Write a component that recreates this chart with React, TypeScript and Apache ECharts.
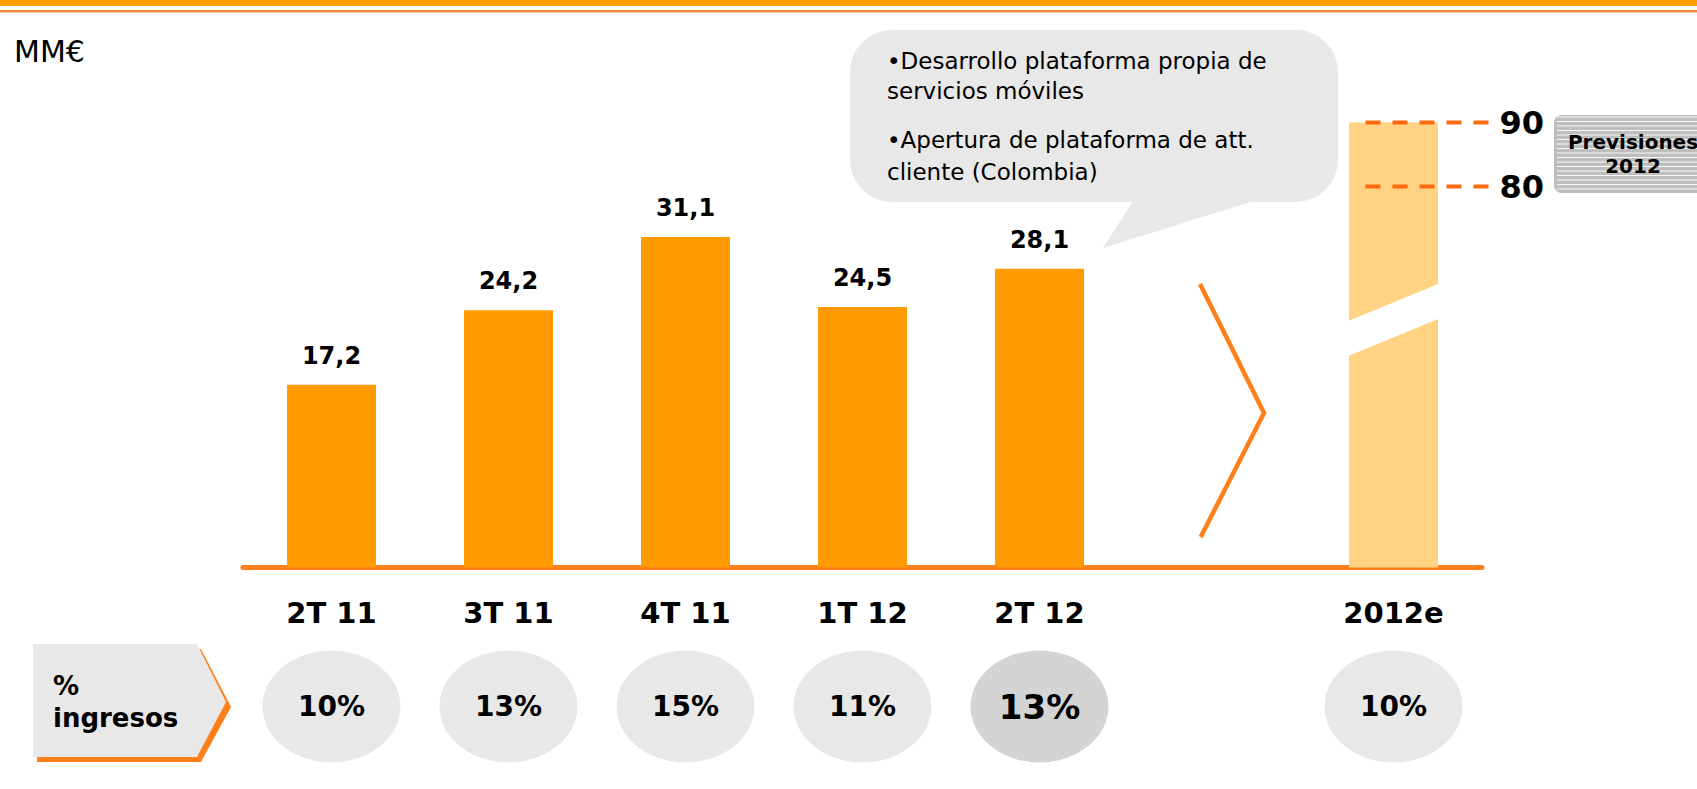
import React, { useEffect, useRef } from "react";
import * as echarts from "echarts";

const categories = ["2T 11", "3T 11", "4T 11", "1T 12", "2T 12", "", "2012e"];
const actualValues: (number | null)[] = [17.2, 24.2, 31.1, 24.5, 28.1, null, null];
const forecastValues: (number | null)[] = [null, null, null, null, null, null, 90];
const forecastRange = [90, 80];
const revenueShare: (number | null)[] = [10, 13, 15, 11, 13, null, 10];
const highlightIndex = 4;
const unitLabel = "MM€";
const rowLabel = ["%", "ingresos"];
const forecastTag = ["Previsiones", "2012"];
const calloutLines = [
  "•Desarrollo plataforma propia de",
  "servicios móviles",
  "•Apertura de plataforma de att.",
  "cliente (Colombia)",
];

const FONT = '"DejaVu Sans", Verdana, sans-serif';
const ORANGE = "#FF9A00";
const LINE_ORANGE = "#FF7F1A";

const fmt = (v: number) => v.toFixed(1).replace(".", ",");

export default function App() {
  const ref = useRef<HTMLDivElement>(null);

  useEffect(() => {
    if (!ref.current) return;
    const chart = echarts.init(ref.current, null, { renderer: "svg" });

    const scatterData = revenueShare
      .map((v, i) => {
        if (v == null) return null;
        const hi = i === highlightIndex;
        return {
          value: [i, 0],
          share: v,
          itemStyle: { color: hi ? "#D4D4D4" : "#E8E8E8", opacity: 1 },
          label: { fontSize: hi ? 34 : 28 },
        };
      })
      .filter((d) => d != null);

    chart.setOption({
      animation: false,
      textStyle: { fontFamily: FONT },
      grid: [
        { left: 243, right: 215, top: 36, bottom: 221.5 },
        { left: 243, right: 215, top: 650, height: 113 },
      ],
      xAxis: [
        {
          type: "category",
          gridIndex: 0,
          data: categories,
          axisLine: { onZero: false, lineStyle: { color: LINE_ORANGE, width: 5, cap: "round" } },
          axisTick: { show: false },
          splitLine: { show: false },
          axisLabel: {
            color: "#000",
            fontSize: 29,
            fontWeight: "bold",
            fontFamily: FONT,
            margin: 31,
            interval: 0,
          },
        },
        { type: "category", gridIndex: 1, data: categories, show: false },
      ],
      yAxis: [
        { type: "value", gridIndex: 0, min: 0, max: 50, show: false },
        { type: "value", gridIndex: 0, min: 20.47, max: 103.52, show: false },
        { type: "value", gridIndex: 1, min: -1, max: 1, show: false },
      ],
      series: [
        {
          type: "bar",
          xAxisIndex: 0,
          yAxisIndex: 1,
          data: forecastValues.map((v) => (v == null ? "-" : v)),
          barWidth: 89,
          barGap: "-100%",
          itemStyle: { color: "#FFD382" },
          z: 2,
        },
        {
          type: "bar",
          xAxisIndex: 0,
          yAxisIndex: 0,
          data: actualValues.map((v) => (v == null ? "-" : v)),
          barWidth: 89,
          barGap: "-100%",
          itemStyle: { color: ORANGE },
          z: 3,
          label: {
            show: true,
            position: "top",
            distance: 17,
            color: "#000",
            fontSize: 24,
            fontWeight: "bold",
            fontFamily: FONT,
            formatter: (p: any) => fmt(p.value),
          },
        },
        {
          type: "scatter",
          xAxisIndex: 1,
          yAxisIndex: 2,
          symbol: "circle",
          symbolSize: [138, 112],
          itemStyle: { opacity: 1 },
          data: scatterData,
          label: {
            show: true,
            position: "inside",
            color: "#000",
            fontWeight: "bold",
            fontFamily: FONT,
            formatter: (p: any) => `${p.data.share}%`,
          },
        },
      ],
    });

    const cx = chart.convertToPixel({ xAxisIndex: 0 }, categories[6]) as number;
    const yHi = chart.convertToPixel({ yAxisIndex: 1 }, forecastRange[0]) as number;
    const yLo = chart.convertToPixel({ yAxisIndex: 1 }, forecastRange[1]) as number;

    const stripes: any[] = [];
    for (let y = 117; y < 192; y += 4.5) {
      stripes.push({
        type: "line",
        shape: { x1: 1557, y1: y, x2: 1697, y2: y },
        style: { stroke: "#FFFFFF", lineWidth: 1.1, opacity: 0.9 },
        z: 21,
      });
    }

    const rangeLines: any[] = [];
    [yHi, yLo].forEach((y, i) => {
      rangeLines.push({
        type: "line",
        shape: { x1: cx - 28, y1: y, x2: cx + 95, y2: y },
        style: { stroke: "#FF6A10", lineWidth: 4, lineDash: [15, 12] },
        z: 20,
      });
      rangeLines.push({
        type: "text",
        x: cx + 106,
        y,
        style: {
          text: String(forecastRange[i]),
          font: `bold 32px ${FONT}`,
          fill: "#000",
          verticalAlign: "middle",
          align: "left",
        },
        z: 20,
      });
    });

    chart.setOption({
      graphic: [
        { type: "rect", shape: { x: 0, y: 0, width: 1697, height: 6 }, style: { fill: "#FFA000" }, z: 20 },
        { type: "rect", shape: { x: 0, y: 10, width: 1697, height: 2.5 }, style: { fill: "#FF8C40" }, z: 20 },
        {
          type: "text",
          x: 14,
          y: 51,
          style: { text: unitLabel, font: `30px ${FONT}`, fill: "#000", verticalAlign: "middle" },
          z: 20,
        },
        // callout bubble
        {
          type: "rect",
          shape: { x: 850, y: 30, width: 488, height: 172, r: 42 },
          style: { fill: "#E8E8E8" },
          z: 15,
        },
        {
          type: "polygon",
          shape: { points: [[1134, 200], [1103, 248], [1257, 200]] },
          style: { fill: "#E8E8E8" },
          z: 15,
        },
        ...calloutLines.map((t, i) => ({
          type: "text",
          x: 887,
          y: [61, 91, 140, 172][i],
          style: { text: t, font: `23px ${FONT}`, fill: "#000", verticalAlign: "middle" },
          z: 16,
        })),
        // break in forecast bar
        {
          type: "polygon",
          shape: { points: [[cx - 47, 321.8], [cx + 47, 283], [cx + 47, 318], [cx - 47, 356.8]] },
          style: { fill: "#FFFFFF" },
          z: 10,
        },
        // chevron
        {
          type: "polyline",
          shape: { points: [[1200, 284], [1264, 413], [1200.7, 537]] },
          style: { stroke: LINE_ORANGE, lineWidth: 4.5, fill: null },
          z: 10,
        },
        ...rangeLines,
        // previsiones tag
        {
          type: "rect",
          shape: { x: 1554, y: 115, width: 170, height: 78, r: 8 },
          style: { fill: "#BEBEBE" },
          z: 20,
        },
        ...stripes,
        {
          type: "text",
          x: 1633,
          y: 141.5,
          style: { text: forecastTag[0], font: `bold 20px ${FONT}`, fill: "#000", align: "center", verticalAlign: "middle" },
          z: 22,
        },
        {
          type: "text",
          x: 1633,
          y: 166,
          style: { text: forecastTag[1], font: `bold 20px ${FONT}`, fill: "#000", align: "center", verticalAlign: "middle" },
          z: 22,
        },
        // % ingresos arrow box
        {
          type: "polygon",
          shape: { points: [[37, 649], [201, 649], [231, 707], [201, 762], [37, 762]] },
          style: { fill: LINE_ORANGE },
          z: 10,
        },
        {
          type: "polygon",
          shape: { points: [[33, 644], [197, 644], [226, 702], [197, 757], [33, 757]] },
          style: { fill: "#E8E8E8" },
          z: 11,
        },
        {
          type: "text",
          x: 53,
          y: 686,
          style: { text: rowLabel[0], font: `bold 26px ${FONT}`, fill: "#000", verticalAlign: "middle" },
          z: 12,
        },
        {
          type: "text",
          x: 53,
          y: 718,
          style: { text: rowLabel[1], font: `bold 26px ${FONT}`, fill: "#000", verticalAlign: "middle" },
          z: 12,
        },
      ],
    });

    return () => chart.dispose();
  }, []);

  return (
    <div
      ref={ref}
      style={{ position: "fixed", left: 0, top: 0, width: 1697, height: 789, background: "#fff" }}
    />
  );
}
